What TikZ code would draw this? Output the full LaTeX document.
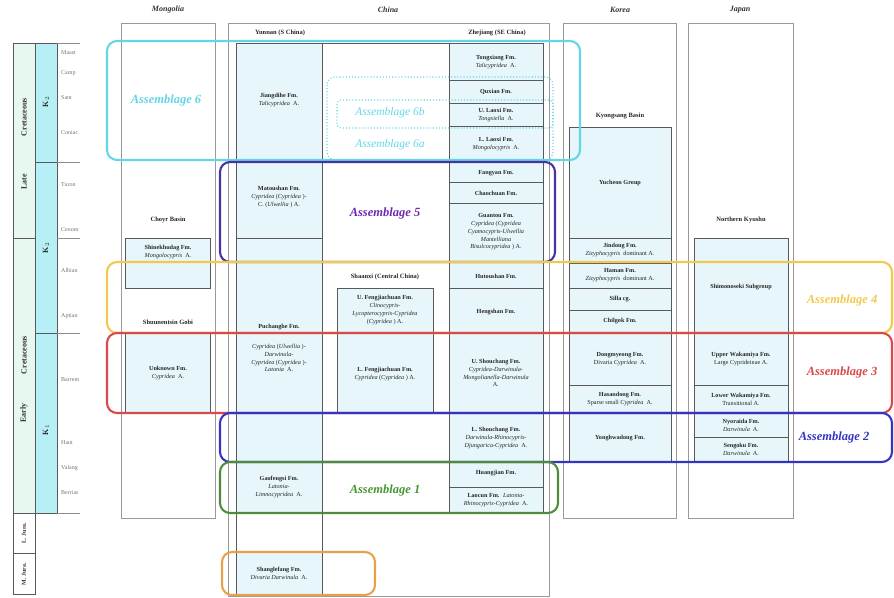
\documentclass[tikz,border=0pt]{standalone}
\usepackage{fontspec}
\setmainfont{Liberation Serif}
\definecolor{boxfill}{HTML}{E6F6FA}
\definecolor{mint}{HTML}{E6F8EF}
\definecolor{cyancol}{HTML}{B6F0F6}
\definecolor{cSix}{HTML}{62D6E4}
\definecolor{cFive}{HTML}{4A30A0}
\definecolor{cFour}{HTML}{F2C94C}
\definecolor{cThree}{HTML}{D9484A}
\definecolor{cTwo}{HTML}{3434C4}
\definecolor{cOne}{HTML}{4E8C3A}
\definecolor{cOr}{HTML}{E8A04A}
\begin{document}
\begin{tikzpicture}[x=1pt,y=-1pt,
  frame/.style={draw=black!40, line width=0.9pt},
  fm/.style={draw=black!65, line width=0.9pt, fill=boxfill},
  t/.style={font=\fontsize{6.2}{7.8}\selectfont, align=center, inner sep=0pt, text=black!85},
  hd/.style={font=\fontsize{8}{9}\selectfont\bfseries\itshape, text=black!80, inner sep=0pt},
  sh/.style={font=\fontsize{6.5}{8}\selectfont\bfseries, text=black!85, inner sep=0pt},
  asm/.style={rounded corners=10pt, line width=2.1pt},
  al/.style={font=\fontsize{12.5}{14}\selectfont\bfseries\itshape, inner sep=0pt},
  stg/.style={font=\fontsize{6}{7}\selectfont, text=black!55, anchor=west, inner sep=0pt},
  rot/.style={rotate=90, font=\fontsize{8}{9}\selectfont\bfseries, text=black!80, inner sep=0pt}
]
\useasboundingbox (0,0) rectangle (894,597);

% ---------- time scale ----------
\draw[fill=mint, draw=black!65, line width=0.9pt] (13,43) rectangle (35,513);
\draw[draw=black!65, line width=0.9pt] (13,513) rectangle (35,553);
\draw[draw=black!65, line width=0.9pt] (13,553) rectangle (35,594);
\draw[fill=cyancol, draw=black!65, line width=0.9pt] (35,43) rectangle (57,513);
\draw[draw=black!65, line width=0.9pt] (13,238) -- (35,238);
\draw[draw=black!65, line width=0.9pt] (35,162) -- (57,162);
\draw[draw=black!65, line width=0.9pt] (35,333) -- (57,333);
\foreach \yy in {43,162,238,333,513} \draw[black!45, line width=0.7pt] (57,\yy) -- (80,\yy);
\node[rot] (cr1) at (24,117) {Cretaceous};
\node[rot] (late) at (24,182) {Late};
\node[rot] (cr2) at (24,355) {Cretaceous};
\node[rot] (early) at (24,413) {Early};
\node[rot, font=\fontsize{6}{7}\selectfont\bfseries] (lj) at (24,533) {L. Jura.};
\node[rot, font=\fontsize{6}{7}\selectfont\bfseries] (mj) at (24,574) {M. Jura.};
\node[rot] (k2a) at (46,102) {K$_2$};
\node[rot] (k2b) at (46,248) {K$_2$};
\node[rot] (k1) at (46,430) {K$_1$};
\node[stg] (s1) at (61,53) {Maast};
\node[stg] (s2) at (61,73) {Camp};
\node[stg] (s3) at (61,98) {Sant};
\node[stg] (s4) at (61,133) {Coniac};
\node[stg] (s5) at (61,185) {Turon};
\node[stg] (s6) at (61,230) {Cenom};
\node[stg] (s7) at (61,270) {Albian};
\node[stg] (s8) at (61,316) {Aptian};
\node[stg] (s9) at (61,380) {Barrem};
\node[stg] (s10) at (61,443) {Haut};
\node[stg] (s11) at (61,468) {Valang};
\node[stg] (s12) at (61,493) {Berrias};

% ---------- region frames ----------
\draw[frame] (121,23) rectangle (215,518);
\draw[frame] (228,23) rectangle (549,596);
\draw[frame] (563,23) rectangle (676,518);
\draw[frame] (688,23) rectangle (793,518);
\node[hd] (hMon) at (168,10) {Mongolia};
\node[hd] (hChi) at (388,10) {China};
\node[hd] (hKor) at (620,10) {Korea};
\node[hd] (hJap) at (740,10) {Japan};
\node[sh] (yun) at (280,33) {Yunnan (S China)};
\node[sh] (zhe) at (497,33) {Zhejiang (SE China)};

% ---------- Mongolia ----------
\node[sh] (choyr) at (168,220) {Choyr Basin};
\draw[fm] (125,238) rectangle (210,288);
\node[t] (shin) at (168,252) {\textbf{Shinekhudag Fm.}\\\textit{Mongolocypris}~ A.};
\node[sh] (gobi) at (168,322) {Shuunentsin Gobi};
\draw[fm] (125,333) rectangle (210,413);
\node[t] (unk) at (168,373) {\textbf{Unknown Fm.}\\\textit{Cypridea}~ A.};

% ---------- China: Yunnan ----------
\draw[fm] (236,43) rectangle (322,512);
\draw[draw=black!65, line width=0.9pt] (236,512) -- (236,594) (322,512) -- (322,594);
\draw[fm] (236,552) rectangle (322,594);
\foreach \yy in {162,238,413,462} \draw[black!65, line width=0.9pt] (236,\yy) -- (322,\yy);
\node[t] (jiang) at (279,100) {\textbf{Jiangdihe Fm.}\\\textit{Talicypridea}~ A.};
\node[t] (mato) at (279,197) {\textbf{Matoushan Fm.}\\\textit{Cypridea} (\textit{Cypridea} )-\\C. (\textit{Ulwellia} ) A.};
\node[t] (puch) at (279,327) {\textbf{Puchanghe Fm.}};
\node[t] (puchA) at (279,358) {\textit{Cypridea} (\textit{Ulwellia} )-\\\textit{Darwinula}-\\\textit{Cypridea} (\textit{Cypridea} )-\\\textit{Latonia}~ A.};
\node[t] (gaof) at (279,487) {\textbf{Gaofengsi Fm.}\\\textit{Latonia}-\\\textit{Limnocypridea}~ A.};
\node[t] (shang) at (279,573) {\textbf{Shanglefang Fm.}\\\textit{Divaria Darwinula}~ A.};

% ---------- China: middle ----------
\draw[black!65, line width=0.9pt] (236,43) -- (543,43) (236,512) -- (543,512);
\node[sh] (shaan) at (385,277) {Shaanxi (Central China)};
\draw[fm] (337,288) rectangle (433,413);
\draw[black!65, line width=0.9pt] (337,333) -- (433,333);
\node[t] (ufeng) at (385,310) {\textbf{U. Fengjiachuan Fm.}\\\textit{Clinocypris}-\\\textit{Lycopterocypris}-\textit{Cypridea}\\(\textit{Cypridea} ) A.};
\node[t] (lfeng) at (385,374) {\textbf{L. Fengjiachuan Fm.}\\\textit{Cypridea} (\textit{Cypridea} ) A.};

% ---------- China: Zhejiang ----------
\draw[fm] (449,43) rectangle (543,512);
\foreach \yy in {80,103,126,162,182,203,262,288,333,413,462,487} \draw[black!65, line width=0.9pt] (449,\yy) -- (543,\yy);
\node[t] (tong) at (496,62) {\textbf{Tongxiang Fm.}\\\textit{Talicypridea}~ A.};
\node[t] (qux) at (496,92) {\textbf{Quxian Fm.}};
\node[t] (ulao) at (496,115) {\textbf{U. Laoxi Fm.}\\\textit{Tongxiella}~ A.};
\node[t] (llao) at (496,144) {\textbf{L. Laoxi Fm.}\\\textit{Mongolocypris}~ A.};
\node[t] (fang) at (496,173) {\textbf{Fangyan Fm.}};
\node[t] (chao) at (496,193) {\textbf{Chaochuan Fm.}};
\node[t] (guan) at (496,232) {\textbf{Guantou Fm.}\\\textit{Cypridea} (\textit{Cypridea}\\\textit{Cyamocypris}-\textit{Ulwellia}\\\textit{Mantelliana}\\\textit{Bisulcocypridea} ) A.};
\node[t] (hut) at (496,276) {\textbf{Hutoushan Fm.}};
\node[t] (heng) at (496,312) {\textbf{Hengshan Fm.}};
\node[t] (ushou) at (496,373) {\textbf{U. Shouchang Fm.}\\\textit{Cypridea}-\textit{Darwinula}-\\\textit{Mongolianella}-\textit{Darwinula}\\A.};
\node[t] (lshou) at (496,438) {\textbf{L. Shouchang Fm.}\\\textit{Darwinula}-\textit{Rhinocypris}-\\\textit{Djungarica}-\textit{Cypridea}~ A.};
\node[t] (huang) at (496,473) {\textbf{Huangjian Fm.}};
\node[t] (laoc) at (496,500) {\textbf{Laocun Fm.}~ \textit{Latonia}-\\\textit{Rhinocypris}-\textit{Cypridea}~ A.};

% ---------- Korea ----------
\node[sh] (kyong) at (620,116) {Kyongsang Basin};
\draw[fm] (569,127) rectangle (671,462);
\foreach \yy in {238,263,288,310,333,385,413} \draw[black!65, line width=0.9pt] (569,\yy) -- (671,\yy);
\node[t] (yuch) at (620,183) {\textbf{Yucheon Group}};
\node[t] (jind) at (620,250) {\textbf{Jindong Fm.}\\\textit{Zizyphocypris}~ dominant A.};
\node[t] (ham) at (620,275) {\textbf{Haman Fm.}\\\textit{Zizyphocypris}~ dominant A.};
\node[t] (sil) at (620,299) {\textbf{Silla cg.}};
\node[t] (chil) at (620,321) {\textbf{Chilgok Fm.}};
\node[t] (dong) at (620,359) {\textbf{Dongmyeong Fm.}\\Divaria \textit{Cypridea}~ A.};
\node[t] (has) at (620,399) {\textbf{Hasandong Fm.}\\Sparse small \textit{Cypridea}~ A.};
\node[t] (yong) at (620,438) {\textbf{Yonghwadong Fm.}};

% ---------- Japan ----------
\node[sh] (nky) at (741,220) {Northern Kyushu};
\draw[fm] (694,238) rectangle (788,462);
\foreach \yy in {333,385,413,437} \draw[black!65, line width=0.9pt] (694,\yy) -- (788,\yy);
\node[t] (shim) at (741,287) {\textbf{Shimonoseki Subgroup}};
\node[t] (uwak) at (741,359) {\textbf{Upper Wakamiya Fm.}\\Large Cyprideinae A.};
\node[t] (lwak) at (741,399) {\textbf{Lower Wakamiya Fm.}\\Transitional A.};
\node[t] (nyo) at (741,425) {\textbf{Nyoraida Fm.}\\\textit{Darwinula}~ A.};
\node[t] (sen) at (741,449) {\textbf{Sengoku Fm.}\\\textit{Darwinula}~ A.};

% ---------- assemblages ----------
\draw[asm, draw=cSix] (107,41) rectangle (580,160);
\draw[cSix, line width=1.1pt, dotted, rounded corners=8pt] (327,77) rectangle (553,160);
\draw[cSix, line width=1.1pt, dotted, rounded corners=4pt] (337,100) rectangle (553,128);
\draw[asm, draw=cFive] (220,162) rectangle (555,262);
\draw[asm, draw=cFour] (107,262) rectangle (892,333);
\draw[asm, draw=cThree] (107,333) rectangle (892,413);
\draw[asm, draw=cTwo] (220,413) rectangle (892,462);
\draw[asm, draw=cOne] (220,462) rectangle (558,513);
\draw[asm, draw=cOr] (222,552) rectangle (375,595);

\node[al, text=cSix] (a6) at (166,100) {Assemblage 6};
\node[al, text=cSix, font=\fontsize{11.5}{13}\selectfont\itshape] (a6b) at (390,113) {Assemblage 6b};
\node[al, text=cSix, font=\fontsize{11.5}{13}\selectfont\itshape] (a6a) at (390,145) {Assemblage 6a};
\node[al, text=cFive!80!magenta] (a5) at (385,213) {Assemblage 5};
\node[al, text=cFour] (a4) at (842,300) {Assemblage 4};
\node[al, text=cThree] (a3) at (842,372) {Assemblage 3};
\node[al, text=cTwo] (a2) at (834,437) {Assemblage 2};
\node[al, text=cOne!90!green] (a1) at (385,490) {Assemblage 1};
\end{tikzpicture}
\end{document}
